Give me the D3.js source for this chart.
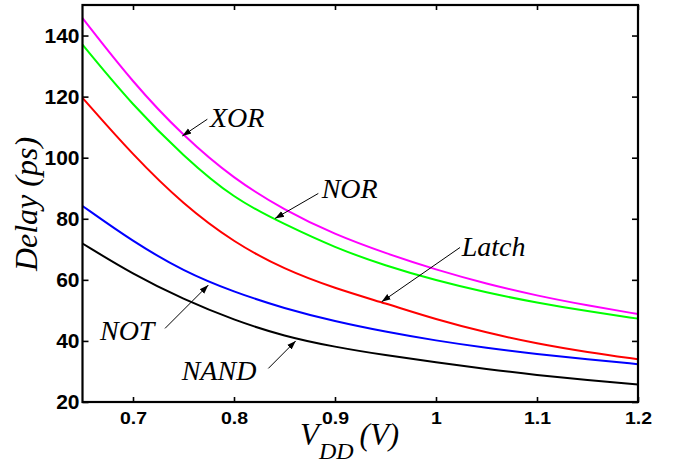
<!DOCTYPE html>
<html lang="en">
<head>
    <meta charset="UTF-8">
    <title>Delay vs VDD</title>
    <script src="https://cdn.jsdelivr.net/npm/d3@7/dist/d3.min.js"></script>
    <style>
        body, html { margin: 0; padding: 0; background: #fff; overflow: hidden; }
        svg { display: block; }
    </style>
</head>
<body>
    <svg id="mainsvg"></svg>
    <script>
        // data (delay in ps)
        const vdd   = [0.65, 0.7, 0.75, 0.8, 0.85, 0.9, 0.95, 1.0, 1.05, 1.1, 1.15, 1.2];
        const xor   = [145.7, 124.5, 107, 93, 82.8, 74.8, 68.7, 63.3, 58.7, 54.8, 51.6, 48.8];
        const nor   = [137, 117, 100.5, 86.5, 78.2, 70.5, 64.6, 59.8, 55.8, 52.5, 49.7, 47.3];
        const latch = [119.6, 100.8, 84.6, 72.2, 63.4, 57.2, 52.3, 47.0, 42.7, 39.1, 36.3, 34];
        const not   = [84.2, 72.5, 62.8, 56.0, 50.6, 46.4, 43, 40.1, 37.7, 35.7, 34, 32.4];
        const nand  = [71.9, 61.8, 53.6, 46.8, 41.5, 38.0, 35.3, 33, 30.8, 28.8, 27.2, 25.7];
        const xTicks = [0.7, 0.8, 0.9, 1.0, 1.1, 1.2];
        const yTicks = [20, 40, 60, 80, 100, 120, 140];

        const series = [
            { name: 'XOR', values: xor, color: '#ff00ff' },
            { name: 'NOR', values: nor, color: '#00ff00' },
            { name: 'Latch', values: latch, color: '#ff0000' },
            { name: 'NOT', values: not, color: '#0000ff' },
            { name: 'NAND', values: nand, color: '#000000' }
        ];

        // label text position + arrow (tail -> tip) in data coords
        const notes = [
            { text: 'XOR',   tx: 0.7762, ty: 110.2, ax: [0.7736, 112.6], at: [0.7488, 107.1] },
            { text: 'NOR',   tx: 0.8868, ty: 86.7,  ax: [0.8835, 88.3],  at: [0.8406, 80.1] },
            { text: 'Latch', tx: 1.0254, ty: 67.9,  ax: [1.0238, 70.6],  at: [0.9462, 52.8] },
            { text: 'NOT',   tx: 0.6673, ty: 40.2,  ax: [0.7317, 44.1],  at: [0.7746, 58.3] },
            { text: 'NAND',  tx: 0.7482, ty: 27.1,  ax: [0.834, 31.0],   at: [0.8611, 40.0] }
        ];

        const serif = "'Liberation Serif'";
        const sans = "'Liberation Sans'";

        const width = 675, height = 461;
        const svg = d3.select('svg').attr('width', width).attr('height', height);

        const margin = { top: 5, right: 37, bottom: 59, left: 82.5 };
        const innerWidth = width - margin.left - margin.right;
        const innerHeight = height - margin.top - margin.bottom;

        const g = svg.append('g')
            .attr('transform', `translate(${margin.left}, ${margin.top})`);

        const xScale = d3.scaleLinear().domain([0.65, 1.2]).range([0, innerWidth]);
        const yScale = d3.scaleLinear().domain([20, 150]).range([innerHeight, 0]);

        // axes, ticks pointing inward on every side
        const xAxis = g.append('g')
            .attr('transform', `translate(0, ${innerHeight})`)
            .call(d3.axisBottom(xScale).tickValues(xTicks).tickSize(-5).tickFormat(d3.format('')));
        xAxis.selectAll('text')
            .attr('y', 0).attr('dy', null)
            .attr('transform', 'translate(0, 21.8) scale(1, 0.85)')
            .style('font-size', '19.5px');

        const yAxis = g.append('g')
            .call(d3.axisLeft(yScale).tickValues(yTicks).tickSize(-6).tickPadding(3));
        yAxis.selectAll('text').style('font-size', '21px');

        g.append('g')
            .call(d3.axisTop(xScale).tickValues(xTicks).tickSize(-5).tickFormat(''));
        g.append('g')
            .attr('transform', `translate(${innerWidth}, 0)`)
            .call(d3.axisRight(yScale).tickValues(yTicks).tickSize(-6).tickFormat(''));

        g.selectAll('.domain').remove();
        g.selectAll('.tick line').attr('stroke', '#000').attr('stroke-width', 1.6);
        g.selectAll('.tick text')
            .attr('fill', '#000')
            .style('font-family', sans)
            .style('font-weight', 'bold');

        // curves
        const line = d3.line()
            .x((d, i) => xScale(vdd[i]))
            .y(d => yScale(d))
            .curve(d3.curveBasis);

        g.selectAll('.curve').data(series).enter().append('path')
            .attr('class', 'curve')
            .attr('fill', 'none')
            .attr('stroke', d => d.color)
            .attr('stroke-width', 2)
            .attr('d', d => line(d.values));

        // frame
        g.append('rect')
            .attr('width', innerWidth).attr('height', innerHeight)
            .attr('fill', 'none').attr('stroke', '#000').attr('stroke-width', 2.2);

        // arrow marker
        svg.append('defs').append('marker')
            .attr('id', 'arrow')
            .attr('viewBox', '0 0 10 10')
            .attr('refX', 10).attr('refY', 5)
            .attr('markerWidth', 9).attr('markerHeight', 9)
            .attr('markerUnits', 'userSpaceOnUse')
            .attr('orient', 'auto')
            .append('path').attr('d', 'M0,1.5 L10,5 L0,8.5 Z').attr('fill', '#000');

        g.selectAll('.note-arrow').data(notes).enter().append('line')
            .attr('class', 'note-arrow')
            .attr('x1', d => xScale(d.ax[0])).attr('y1', d => yScale(d.ax[1]))
            .attr('x2', d => xScale(d.at[0])).attr('y2', d => yScale(d.at[1]))
            .attr('stroke', '#000').attr('stroke-width', 1)
            .attr('marker-end', 'url(#arrow)');

        g.selectAll('.note').data(notes).enter().append('text')
            .attr('class', 'note')
            .attr('x', d => xScale(d.tx)).attr('y', d => yScale(d.ty))
            .style('font-family', serif)
            .style('font-style', 'italic')
            .style('font-size', '28px')
            .text(d => d.text);

        // axis titles
        svg.append('text')
            .attr('transform', 'translate(37, 204) rotate(-90)')
            .attr('text-anchor', 'middle')
            .style('font-family', serif)
            .style('font-style', 'italic')
            .style('font-size', '32px')
            .text('Delay (ps)');

        const xt = svg.append('text')
            .attr('x', 300).attr('y', 445)
            .style('font-family', serif)
            .style('font-style', 'italic')
            .style('font-size', '31px');
        xt.append('tspan').text('V');
        xt.append('tspan').style('font-size', '24px').attr('dy', 14).text('DD');
        xt.append('tspan').attr('dy', -14).attr('dx', 6).text('(V)');
    </script>
</body>
</html>
